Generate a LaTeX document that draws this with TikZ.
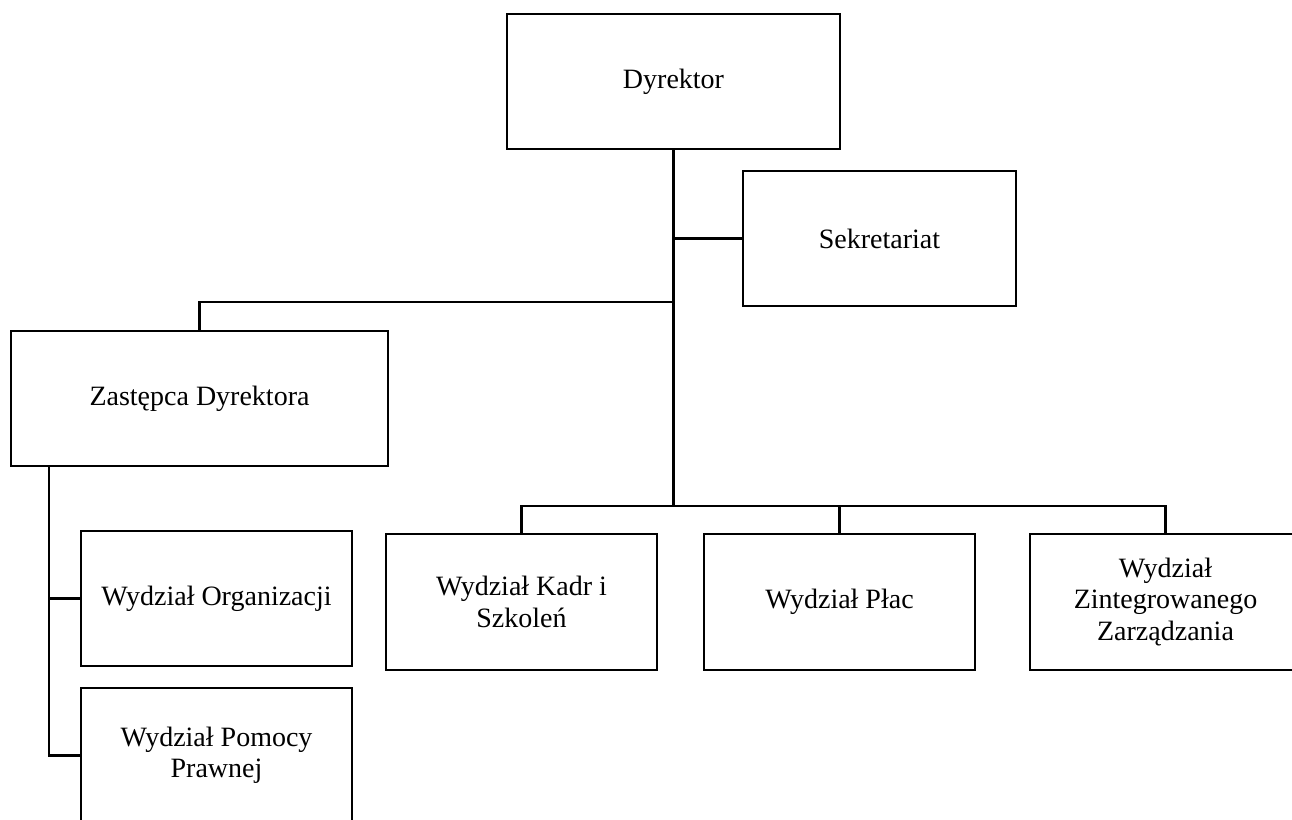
\documentclass[tikz,border=0pt]{standalone}
\usepackage{fontspec}
\setmainfont{Liberation Serif}
\begin{document}
\begin{tikzpicture}[x=0.75pt,y=-0.75pt,
  box/.style={draw=black,line width=1.8pt,rectangle,inner sep=0pt,align=center,
    font=\fontsize{21}{23.5}\selectfont},
  conn/.style={draw=black,line width=1.6pt},
  trunk/.style={draw=black,line width=2.3pt}]
\useasboundingbox (0,0) rectangle (1292,819);
\clip (0,0) rectangle (1292,819);
\fill[white] (0,0) rectangle (1292,819);
\node[box,minimum width=333*0.75pt,minimum height=135*0.75pt] (dyr) at (673.5,81.5) {Dyrektor};
\node[box,minimum width=273*0.75pt,minimum height=135*0.75pt] (sek) at (879.5,238.5) {Sekretariat};
\node[box,minimum width=377*0.75pt,minimum height=135*0.75pt] (zas) at (199.5,398.5) {Zastępca Dyrektora};
\node[box,minimum width=271*0.75pt,minimum height=135*0.75pt] (org) at (216.5,598.5) {Wydział Organizacji};
\node[box,minimum width=271*0.75pt,minimum height=135*0.75pt] (pom) at (216.5,755.5) {Wydział Pomocy\\Prawnej};
\node[box,minimum width=271*0.75pt,minimum height=136*0.75pt] (kadr) at (521.5,602) {Wydział Kadr i\\Szkoleń};
\node[box,minimum width=271*0.75pt,minimum height=136*0.75pt] (plac) at (839.5,602) {Wydział Płac};
\node[box,minimum width=271*0.75pt,minimum height=136*0.75pt] (zint) at (1165.5,602) {Wydział\\Zintegrowanego\\Zarządzania};
\coordinate (bus) at (dyr.south |- 0,506);
\coordinate (j1) at (dyr.south |- 0,302);
\coordinate (zl) at (49,466);
\draw[trunk] (dyr.south) -- (bus);
\draw[conn] (sek.west -| dyr.south) -- (sek.west);
\draw[conn] (j1) -| (zas.north);
\draw[conn] (kadr.north) |- (bus) -| (zint.north);
\draw[conn] (plac.north) -- (plac.north |- bus);
\draw[conn] (zl) |- (org.west);
\draw[conn] (zl) |- (pom.west);
\end{tikzpicture}
\end{document}
